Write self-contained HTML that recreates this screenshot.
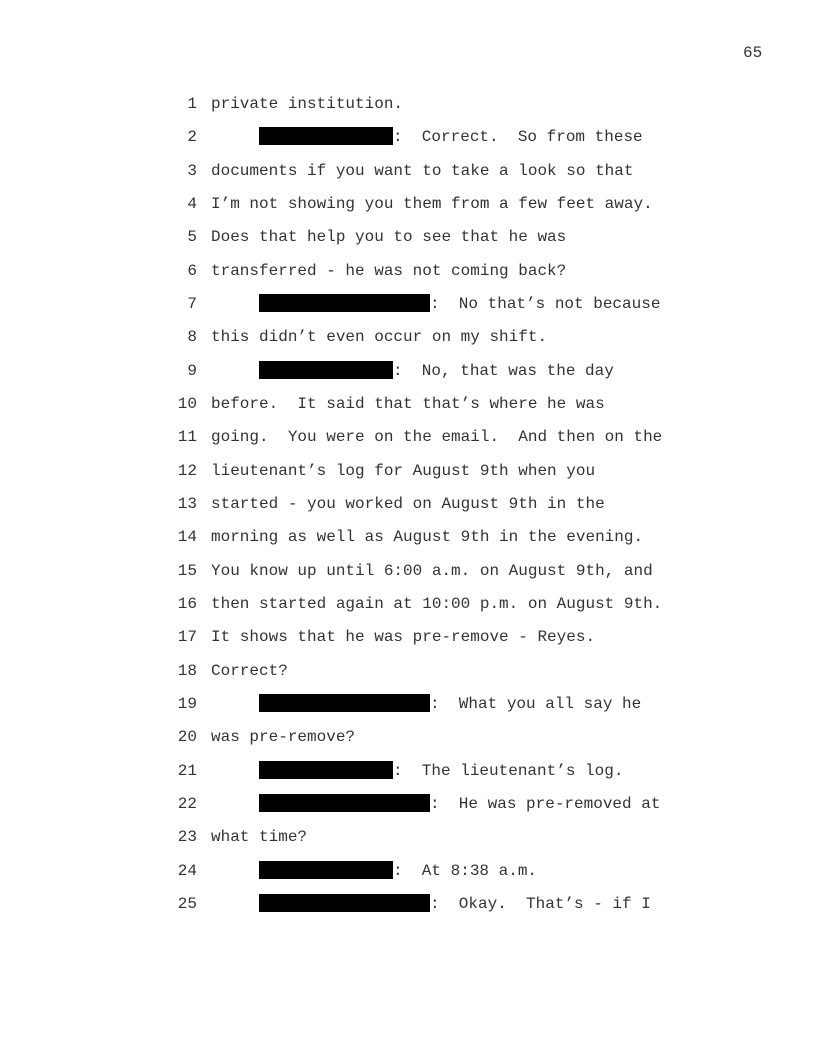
<!DOCTYPE html>
<html><head><meta charset="utf-8"><style>
body{margin:0;background:#fff;}
.p{position:relative;width:816px;height:1056px;font-family:"Liberation Mono",monospace;font-size:16px;color:#333;}
.l{position:absolute;height:18px;line-height:18px;white-space:pre;}
.n{position:absolute;width:40px;text-align:right;left:157px;height:18px;line-height:18px;}
.b{position:absolute;background:#000;height:18px;left:259px;}
</style></head><body><div class="p">
<div class="l" style="left:743px;top:44px">65</div>
<script>
const L=[
["private institution."],
[1,"Correct.  So from these"],
["documents if you want to take a look so that"],
["I’m not showing you them from a few feet away."],
["Does that help you to see that he was"],
["transferred - he was not coming back?"],
[2,"No that’s not because"],
["this didn’t even occur on my shift."],
[1,"No, that was the day"],
["before.  It said that that’s where he was"],
["going.  You were on the email.  And then on the"],
["lieutenant’s log for August 9th when you"],
["started - you worked on August 9th in the"],
["morning as well as August 9th in the evening."],
["You know up until 6:00 a.m. on August 9th, and"],
["then started again at 10:00 p.m. on August 9th."],
["It shows that he was pre-remove - Reyes."],
["Correct?"],
[2,"What you all say he"],
["was pre-remove?"],
[1,"The lieutenant’s log."],
[2,"He was pre-removed at"],
["what time?"],
[1,"At 8:38 a.m."],
[2,"Okay.  That’s - if I"]];
let h='';
L.forEach((x,i)=>{const c=103+i*33.33;const t=(c-8).toFixed(1);const bt=(c-9).toFixed(1);
h+=`<div class="n" style="top:${t}px">${i+1}</div>`;
if(x.length==1)h+=`<div class="l" style="left:211px;top:${t}px">${x[0]}</div>`;
else{const w=x[0]==1?134:171;h+=`<div class="b" style="top:${bt}px;width:${w}px"></div><div class="l" style="left:${259+w}px;top:${t}px">:  ${x[1]}</div>`;}
});
document.write(h);
</script>
</div></body></html>
